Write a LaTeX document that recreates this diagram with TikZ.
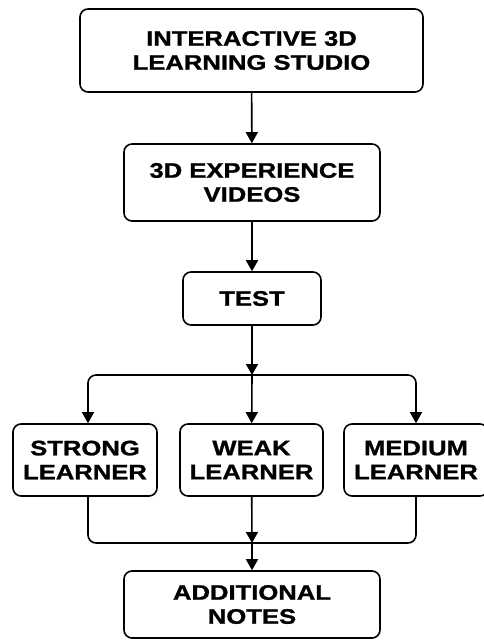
\documentclass[tikz,border=0pt]{standalone}
\usepackage{fontspec}
\newfontfamily\boxfont[FakeStretch=1.22,FakeBold=1.2]{Liberation Sans Bold}
\usetikzlibrary{arrows.meta}

\begin{document}
\begin{tikzpicture}[x=1pt, y=-1pt,
    stage/.style={draw, line width=1.6pt, rounded corners=8pt, align=center,
      inner sep=0pt, font=\boxfont\fontsize{21}{24}\selectfont},
    link/.style={line width=1.6pt, rounded corners=8pt, -{Triangle[length=11pt,width=12pt]}},
    branch/.style={line width=1.6pt, rounded corners=8pt}]
    \useasboundingbox (0,0) rectangle (483,642);
    % stages down the middle
    \node [stage, minimum width=343pt, minimum height=83pt] (studio) at (251.5,50.5) {INTERACTIVE 3D\\LEARNING STUDIO};
    \node [stage, minimum width=256pt, minimum height=77pt] (videos) at (252,182.5) {3D EXPERIENCE\\VIDEOS};
    \node [stage, minimum width=138pt, minimum height=53pt] (test) at (252,298.5) {TEST};
    % the three learners
    \node [stage, minimum width=144pt, minimum height=72pt] (strong) at (85,460) {STRONG\\LEARNER};
    \node [stage, minimum width=143pt, minimum height=72pt] (weak) at (251.5,460) {WEAK\\LEARNER};
    \node [stage, minimum width=144pt, minimum height=72pt] (medium) at (416,460) {MEDIUM\\LEARNER};
    \node [stage, minimum width=256pt, minimum height=67pt] (notes) at (252,604.5) {ADDITIONAL\\NOTES};
    \coordinate (split) at (252,375);
    \coordinate (join) at (252,543);
    \draw [link] (studio) -- (videos);
    \draw [link] (videos) -- (test);
    \draw [link] (test) -- (split);
    \draw [link] (split) -| ([xshift=3pt]strong.north);
    \draw [link] (split) -| (medium.north);
    \draw [link] (split) -- (weak);
    \draw [branch] ([xshift=3pt]strong.south) |- (join) -| (medium.south);
    \draw [link] (weak) -- (join);
    \draw [link] (join) -- (notes);
\end{tikzpicture}
\end{document}
